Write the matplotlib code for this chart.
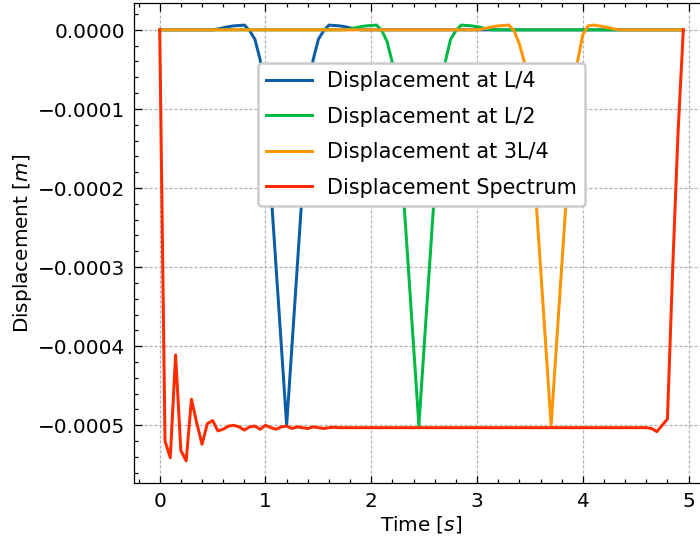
import numpy as np
import matplotlib
matplotlib.use("Agg")
import matplotlib.pyplot as plt

# Sampling grid of the simulation (100 steps of 0.05 s)
dt = 0.05
time_s = np.arange(100) * dt

# Displacements in micrometres, one value per time step
disp_L4_um = [
    0, 0, 0, 0, 0, 0, 0, 0, 0, 0,
    0, 1, 2.5, 4, 5, 5.5, 6, -1, -12, -38,
    -100, -200, -300, -400, -500, -400, -300, -200, -100, -38,
    -12, -1, 6, 5.5, 5, 4, 2.5, 1, 0, 0,
    0, 0, 0, 0, 0, 0, 0, 0, 0, 0,
    0, 0, 0, 0, 0, 0, 0, 0, 0, 0,
    0, 0, 0, 0, 0, 0, 0, 0, 0, 0,
    0, 0, 0, 0, 0, 0, 0, 0, 0, 0,
    0, 0, 0, 0, 0, 0, 0, 0, 0, 0,
    0, 0, 0, 0, 0, 0, 0, 0, 0, 0,
]
disp_L2_um = [
    0, 0, 0, 0, 0, 0, 0, 0, 0, 0,
    0, 0, 0, 0, 0, 0, 0, 0, 0, 0,
    0, 0, 0, 0, 0, 0, 0, 0, 0, 0,
    0, 0, 0, 0, 0, 0, 1, 2.5, 4, 5,
    5.5, 6, -1, -15, -42, -100, -200, -300, -400, -500,
    -400, -300, -200, -100, -40, -12, -1, 6, 5.5, 5,
    4, 2.5, 1, 0, 0, 0, 0, 0, 0, 0,
    0, 0, 0, 0, 0, 0, 0, 0, 0, 0,
    0, 0, 0, 0, 0, 0, 0, 0, 0, 0,
    0, 0, 0, 0, 0, 0, 0, 0, 0, 0,
]
disp_3L4_um = [
    0, 0, 0, 0, 0, 0, 0, 0, 0, 0,
    0, 0, 0, 0, 0, 0, 0, 0, 0, 0,
    0, 0, 0, 0, 0, 0, 0, 0, 0, 0,
    0, 0, 0, 0, 0, 0, 0, 0, 0, 0,
    0, 0, 0, 0, 0, 0, 0, 0, 0, 0,
    0, 0, 0, 0, 0, 0, 0, 0, 0, 0,
    0, 1, 2.5, 4, 5, 5.5, 6, -1, -18, -42,
    -100, -200, -300, -400, -500, -400, -300, -200, -100, -40,
    -6, 5, 6, 5, 4, 2.5, 1, 0, 0, 0,
    0, 0, 0, 0, 0, 0, 0, 0, 0, 0,
]
disp_spectrum_um = [
    0, -520, -541, -411, -532, -545, -467, -497, -524, -498,
    -494, -507, -505, -501, -500, -502, -506, -502, -501, -505,
    -500, -503, -505, -502, -501, -504, -502, -503, -504, -502,
    -503, -504, -503, -502.5, -503, -503, -503, -503, -503, -503,
    -503, -503, -503, -503, -503, -503, -503, -503, -503, -503,
    -503, -503, -503, -503, -503, -503, -503, -503, -503, -503,
    -503, -503, -503, -503, -503, -503, -503, -503, -503, -503,
    -503, -503, -503, -503, -503, -503, -503, -503, -503, -503,
    -503, -503, -503, -503, -503, -503, -503, -503, -503, -503,
    -503, -503, -503, -504, -508, -500, -492, -300, -130, 0,
]

series_labels = [
    "Displacement at L/4",
    "Displacement at L/2",
    "Displacement at 3L/4",
    "Displacement Spectrum",
]
series_colors = ["#0C5DA5", "#00B945", "#FF9500", "#FF2C00"]

plt.rcParams.update({
    "font.family": ["DejaVu Sans"],
    "font.size": 8,
    "axes.linewidth": 0.5,
    "axes.labelpad": 1.5,
    "lines.linewidth": 1.2,
    "xtick.direction": "in",
    "ytick.direction": "in",
    "xtick.top": True,
    "ytick.right": True,
    "xtick.minor.visible": True,
    "ytick.minor.visible": True,
    "xtick.major.size": 3,
    "ytick.major.size": 3,
    "xtick.minor.size": 1.5,
    "ytick.minor.size": 1.5,
    "xtick.major.width": 0.5,
    "ytick.major.width": 0.5,
    "xtick.minor.width": 0.5,
    "ytick.minor.width": 0.5,
    "grid.linestyle": (0, (2.4, 1.6)),
    "grid.linewidth": 0.5,
    "grid.color": "#b0b0b0",
})

DPI = 180
fig = plt.figure(figsize=(700.2 / DPI, 546.2 / DPI), dpi=DPI)
ax = fig.add_axes([133.5 / 700, (546 - 482.7) / 546, (709.3 - 133.5) / 700, (482.7 - 3.5) / 546])

for values, label, color in zip(
    [disp_L4_um, disp_L2_um, disp_3L4_um, disp_spectrum_um], series_labels, series_colors
):
    ax.plot(time_s, np.asarray(values) * 1e-6, color=color, label=label)

ax.grid(True, which="major")
ax.set_xlabel("Time [$s$]")
ax.set_ylabel("Displacement [$m$]")

ax.legend(loc="upper center", bbox_to_anchor=(0.5, 0.876), borderaxespad=0,
          fontsize=8.3, labelspacing=0.75, handlelength=2.2, handletextpad=0.7,
          framealpha=1.0, edgecolor="#cccccc")

fig.savefig("out.png", dpi=DPI)
